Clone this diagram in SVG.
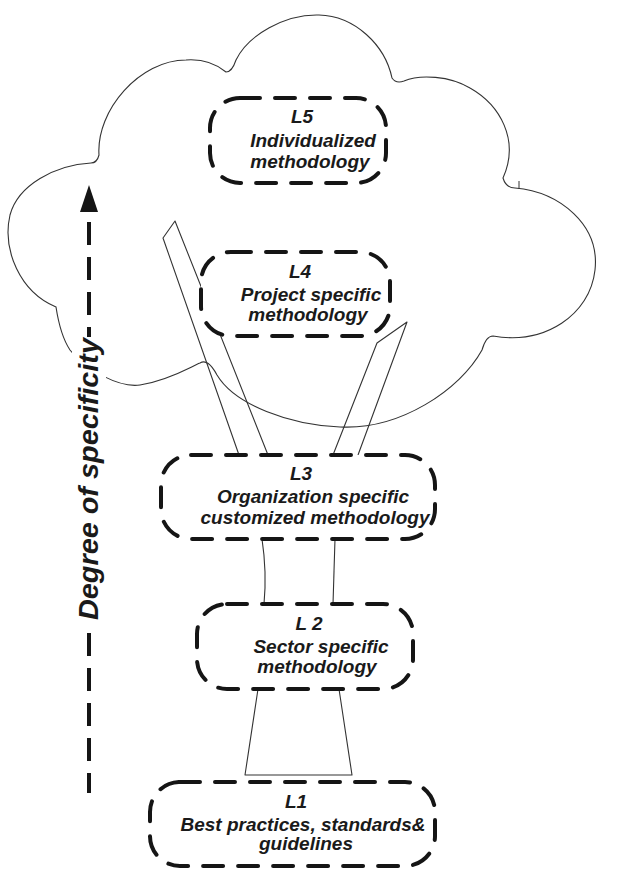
<svg xmlns="http://www.w3.org/2000/svg" width="642" height="870" viewBox="0 0 642 870">
<style>
.cloud{fill:none;stroke:#333;stroke-width:1.1}
.conn{fill:none;stroke:#333;stroke-width:1.1;stroke-linejoin:round}
.box{fill:#fff;stroke:#151515;stroke-width:4;stroke-dasharray:20 15;stroke-linecap:round}
.lbl{font-family:"Liberation Sans",Arial,sans-serif;font-weight:bold;font-style:italic;font-size:19px;fill:#1a1a1a;text-anchor:middle}
.axis{fill:none;stroke:#151515;stroke-width:4;stroke-dasharray:23 12}
</style>
<rect width="642" height="870" fill="#fff"/>
<g id="cloud">
<path class="cloud" d="M56,307 C20,292 2,250 10,215 C18,185 55,165 91,163 Q97,163 99,155 C96,110 140,60 186,60 C200,59 215,63 226,72 Q232,72 236,60 C248,35 285,14 319,15 C355,16 385,45 392,78 Q396,84 404,81 C420,74 450,76 470,88 C500,105 520,140 503,178 Q506,188 515,188 C560,192 600,225 595,270 C590,315 545,345 493,336 Q486,336 482,350 C460,390 400,430 340,427 C290,425 235,405 217,375 Q208,358 200,363 C190,367 170,380 140,385 C120,388 85,370 70,350 C62,338 58,320 56,307 Z"/>
<line x1="519" y1="181" x2="519" y2="189" stroke="#333" stroke-width="1"/>
</g>
<g id="connectors">
<polyline class="conn" points="239,455 163,238 175,221 268,455"/>
<polyline class="conn" points="333,455 377,343 407,322 358,455"/>
<path class="conn" d="M262,539 Q267,572 264,604"/>
<path class="conn" d="M335,539 L333,604"/>
<polyline class="conn" points="258,689 245,775 352,775 339,689"/>
</g>
<g id="L5">
<rect class="box" x="210" y="98" width="176" height="85" rx="30"/>
<text class="lbl" x="302" y="123">L5</text>
<text class="lbl" x="313" y="147">Individualized</text>
<text class="lbl" x="310" y="168">methodology</text>
</g>
<g id="L4">
<rect class="box" x="201" y="252" width="189" height="84" rx="30"/>
<text class="lbl" x="300" y="278">L4</text>
<text class="lbl" x="311" y="301">Project specific</text>
<text class="lbl" x="308" y="321">methodology</text>
</g>
<g id="L3">
<rect class="box" x="161" y="455" width="274" height="84" rx="30"/>
<text class="lbl" x="301" y="480">L3</text>
<text class="lbl" x="313" y="503">Organization specific</text>
<text class="lbl" x="315" y="524">customized methodology</text>
</g>
<g id="L2">
<rect class="box" x="197" y="604" width="216" height="85" rx="30"/>
<text class="lbl" x="309" y="630">L 2</text>
<text class="lbl" x="321" y="653">Sector specific</text>
<text class="lbl" x="317" y="673">methodology</text>
</g>
<g id="L1">
<rect class="box" x="150" y="782" width="285" height="84" rx="30"/>
<text class="lbl" x="296" y="808">L1</text>
<text class="lbl" x="303" y="831">Best practices, standards&amp;</text>
<text class="lbl" x="306" y="850">guidelines</text>
</g>
<g id="axis">
<rect x="72" y="338" width="34" height="290" fill="#fff"/>
<line class="axis" x1="89" y1="222" x2="89" y2="337"/>
<line class="axis" x1="89" y1="633" x2="89" y2="793"/>
<polygon points="89,185 80,212 98,212" fill="#151515"/>
<text transform="translate(98,620) rotate(-90)" font-family="Liberation Sans, Arial, sans-serif" font-weight="bold" font-style="italic" font-size="28" fill="#1a1a1a" textLength="282" lengthAdjust="spacingAndGlyphs">Degree of specificity</text>
</g>
</svg>
